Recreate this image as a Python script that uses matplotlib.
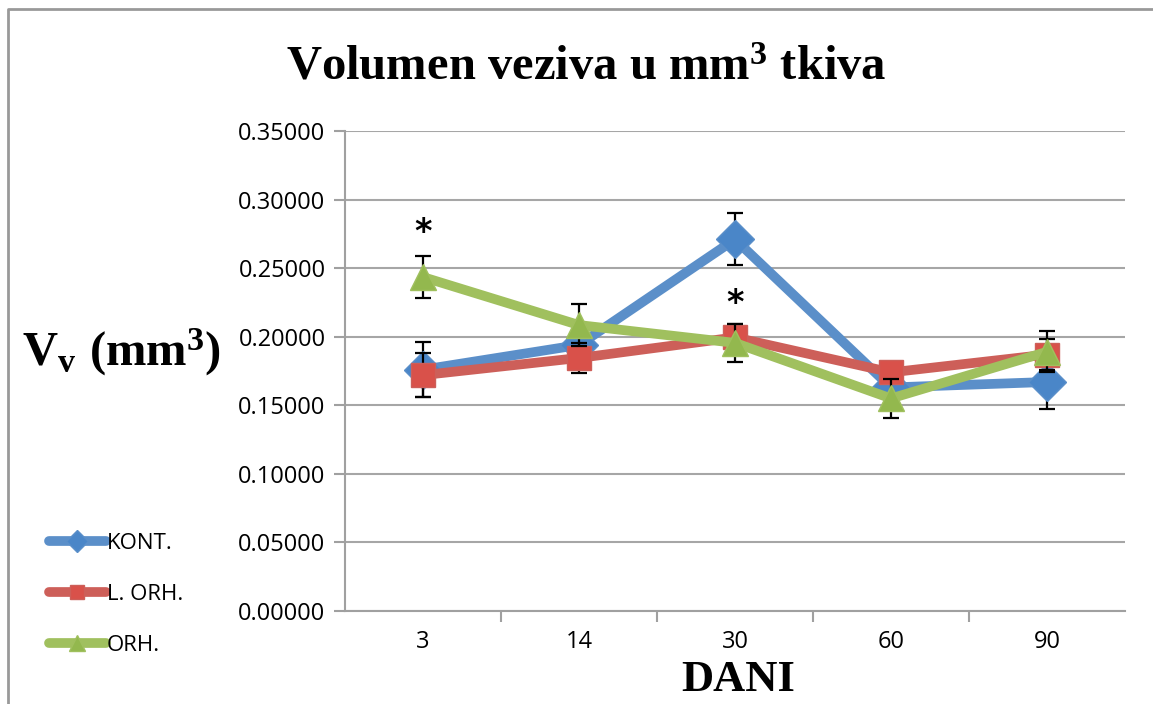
import matplotlib
matplotlib.use("Agg")
import matplotlib.pyplot as plt
from matplotlib.lines import Line2D
import numpy as np

plt.rcParams['mathtext.fontset'] = 'custom'
plt.rcParams['mathtext.rm'] = 'Liberation Serif:bold'
plt.rcParams['mathtext.bf'] = 'Liberation Serif:bold'
plt.rcParams['mathtext.it'] = 'Liberation Serif:bold'

days = ["3", "14", "30", "60", "90"]
kont = [0.176, 0.194, 0.271, 0.163, 0.167]
kont_err = [0.020, 0.004, 0.019, 0.006, 0.020]
lorh = [0.172, 0.1845, 0.1995, 0.174, 0.187]
lorh_err = [0.016, 0.011, 0.010, 0.004, 0.011]
orh = [0.2435, 0.2085, 0.1955, 0.155, 0.189]
orh_err = [0.015, 0.015, 0.014, 0.014, 0.015]
star_days = ["3", "30"]
star_y = [0.276, 0.224]

W, H = 1153, 704
fig = plt.figure(figsize=(W / 100, H / 100), dpi=100)
ax = fig.add_axes([345 / W, 1 - 611 / H, (1125 - 345) / W, (611 - 131) / H])

x = np.arange(len(days))
series = [
    ("KONT.", kont, kont_err, "#5B8FC9", "#4A86C8", "D", 19),
    ("L. ORH.", lorh, lorh_err, "#CD5F59", "#D9514A", "s", 17),
    ("ORH.", orh, orh_err, "#A0C05E", "#93B84E", "^", 19),
]
handles = []
for i, (name, vals, err, lc, mc, mk, ms) in enumerate(series):
    ax.errorbar(x, vals, yerr=err, fmt="none", ecolor="black", elinewidth=1.6,
                capsize=6, capthick=1.6, zorder=2 + i * 2)
    ax.plot(x, vals, color=lc, lw=7, zorder=3 + i * 2, solid_capstyle="round",
            solid_joinstyle="round")
    ax.plot(x, vals, linestyle="none", marker=mk, markersize=ms, markerfacecolor=mc,
            markeredgecolor=lc, markeredgewidth=1, zorder=3.5 + i * 2)
    handles.append(Line2D([0], [0], color=lc, lw=7, marker=mk, markersize=ms * 0.6,
                          markerfacecolor=mc, markeredgecolor=lc,
                          solid_capstyle="round"))

for d, yv in zip(star_days, star_y):
    ax.text(days.index(d), yv, "*", ha="center", va="center", fontsize=24,
            family="DejaVu Sans", weight="bold", zorder=10)

ax.set_xlim(-0.5, len(days) - 0.5)
ax.set_ylim(0, 0.35)
ax.set_yticks(np.arange(0, 0.3501, 0.05))
ax.set_yticklabels([f"{v:.5f}" for v in np.arange(0, 0.3501, 0.05)],
                   family="Open Sans", fontsize=17)
ax.set_xticks(x)
ax.set_xticklabels(days, family="Open Sans", fontsize=17)
ax.set_xticks(np.arange(0.5, len(days) - 0.5, 1), minor=True)
ax.tick_params(axis="x", which="major", length=0, pad=14)
ax.tick_params(axis="x", which="minor", length=8, color="#A0A0A0", width=1.5,
               direction="out")
ax.tick_params(axis="y", length=8, color="#A0A0A0", width=1.5, direction="out", pad=6)
ax.grid(axis="y", color="#A6A6A6", lw=1.5, zorder=0)
ax.set_axisbelow(True)
for s in ["top", "right"]:
    ax.spines[s].set_visible(False)
for s in ["left", "bottom"]:
    ax.spines[s].set_color("#A0A0A0")
    ax.spines[s].set_linewidth(1.5)

fig.text(586 / W, 1 - 68 / H, r"Volumen veziva u mm$^{3}$ tkiva", ha="center",
         va="center", family="Liberation Serif", weight="bold", fontsize=35)
fig.text(121 / W, 1 - 352 / H, r"$\mathbf{V_{v}\ (mm^{3})}$", ha="center",
         va="center", fontsize=35)
fig.text(738 / W, 1 - 680 / H, "DANI", ha="center", va="center",
         family="Liberation Serif", weight="bold", fontsize=32)

fig.legend(handles, [s[0] for s in series], loc="upper left",
           bbox_to_anchor=(38 / W, 1 - 522 / H), frameon=False,
           prop={"family": "Open Sans", "size": 16}, handlelength=2.55,
           handletextpad=0.05, labelspacing=1.35, borderpad=0)

fig.add_artist(Line2D([8 / W, 8 / W, 1], [0, 1 - 9 / H, 1 - 9 / H],
                      transform=fig.transFigure, color="#999999", lw=2))

fig.savefig("out.png", dpi=100)
